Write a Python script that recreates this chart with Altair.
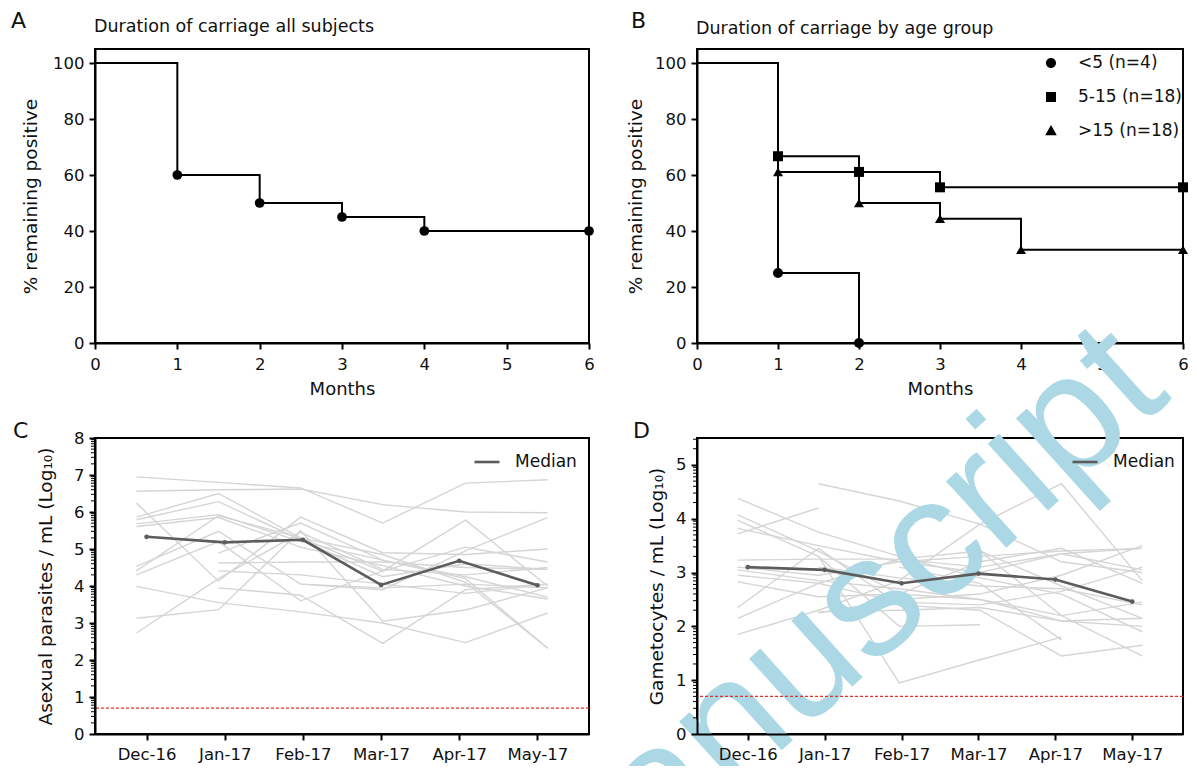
import json
import math
import altair as alt
import pandas as pd

FONT = "DejaVu Sans"
INK = "#111111"

# ---------------- data ----------------
# Panel A: all subjects
a_month = [0, 1, 2, 3, 4, 6]
a_pct = [100, 60, 50, 45, 40, 40]
a_marker = [0, 1, 1, 1, 1, 1]

# Panel B: by age group
b_groups = ["<5 (n=4)", "5-15 (n=18)", ">15 (n=18)"]
b_lt5_month = [0, 1, 2]
b_lt5_pct = [100, 25, 0]
b_lt5_marker = [0, 1, 1]
b_mid_month = [0, 1, 2, 3, 6]
b_mid_pct = [100, 66.7, 61.1, 55.6, 55.6]
b_mid_marker = [0, 1, 1, 1, 1]
b_old_month = [0, 1, 2, 3, 4, 6]
b_old_pct = [100, 61.1, 50.0, 44.4, 33.3, 33.3]
b_old_marker = [0, 1, 1, 1, 1, 1]

# Panels C/D
months = ["Dec-16", "Jan-17", "Feb-17", "Mar-17", "Apr-17", "May-17"]
median_x = [0, 1, 2, 3, 4, 5]
subject_x = [-0.13, 0.92, 1.97, 3.02, 4.08, 5.13]
lod = 0.7

c_median = [5.33, 5.18, 5.25, 4.03, 4.68, 4.02]
c_subjects = [
    [6.95, 6.80, 6.65, 5.70, 6.78, 6.87],
    [6.56, 6.60, 6.62, 6.20, 6.00, 5.98],
    [6.24, 4.13, 5.86, 4.90, 4.85, 5.00],
    [5.86, 6.50, 5.30, 4.40, 5.78, 4.00],
    [5.79, 6.28, 5.25, 4.25, 4.60, 4.45],
    [5.68, 5.93, 5.20, 4.70, 4.20, 2.32],
    [5.61, 5.85, 5.05, 4.55, 4.00, 3.65],
    [4.53, 5.48, 4.05, 3.90, 4.95, 5.85],
    [4.41, 5.90, 5.30, 4.85, 4.10, 2.32],
    [4.30, 5.20, 3.60, 4.40, 5.05, 4.65],
    [3.99, 3.55, 3.30, 3.00, 2.47, 3.27],
    [3.13, 3.36, 5.50, 3.05, 3.35, 3.95],
    [2.73, 4.20, 5.45, 4.45, 4.30, 4.50],
    [None, 4.89, 5.70, 4.70, 4.25, 3.70],
    [None, 4.41, 4.30, 4.05, 3.80, 4.05],
    [None, 4.62, 4.65, 4.65, 4.50, 4.45],
    [None, None, 4.05, 3.95, 4.05, 3.95],
    [None, 3.95, 3.75, 2.45, 3.90, 4.05],
]

d_median = [3.10, 3.05, 2.80, 2.98, 2.87, 2.46]
d_subjects = [
    [4.38, 3.75, 3.30, 2.90, 2.60, 1.90],
    [4.07, 3.40, 2.60, 2.50, 2.20, 1.45],
    [3.97, 3.30, 2.00, 2.03, None, None],
    [3.82, 3.50, 3.20, 3.00, 3.35, 3.45],
    [3.72, 4.20, None, None, None, None],
    [3.23, 3.25, 3.25, 3.10, 3.35, 3.05],
    [3.10, 2.95, 3.20, 3.30, 3.40, 3.45],
    [3.05, 2.85, 2.70, 2.50, 2.10, 2.15],
    [2.95, 2.80, 2.45, 2.40, 2.65, 3.10],
    [2.83, 2.55, 2.60, 3.20, 3.45, 2.80],
    [2.35, 3.45, 2.40, 2.30, 1.45, 1.65],
    [2.15, 2.80, 3.25, 3.40, 2.20, 2.45],
    [1.85, 2.30, 2.85, 3.90, 4.65, 2.85],
    [None, 4.65, 4.33, 3.90, 3.20, 3.00],
    [None, 3.30, 0.95, 1.38, 1.80, None],
    [None, 2.27, 2.30, 2.35, 2.10, 2.00],
    [None, 3.10, 2.90, 2.75, 2.70, 2.40],
    [None, 2.25, 2.50, 2.60, 2.95, 3.50],
    [None, None, 3.10, 2.80, 1.75, None],
    [None, None, None, 3.40, 2.75, 2.15],
]

LEFT_W = 494
RIGHT_W = 486

# ---------------- helpers ----------------
def ax(**kw):
    base = dict(
        labelFont=FONT, labelFontSize=16.5, labelColor=INK, labelPadding=5,
        labelFlush=False, labelOverlap=False,
        titleFont=FONT, titleFontSize=18.5, titleColor=INK, titleFontWeight="normal",
        domainColor="black", domainWidth=2, tickColor="black", tickWidth=2,
        tickSize=6, grid=False,
    )
    base.update(kw)
    return alt.Axis(**base)


def text_layer(txt, x, y, size, align="left"):
    return alt.Chart(pd.DataFrame({"t": [txt]})).mark_text(
        align=align, baseline="alphabetic", font=FONT, fontSize=size, color=INK
    ).encode(text="t:N", x=alt.value(x), y=alt.value(y))


# ---------------- panel A ----------------
dfA = pd.DataFrame({"month": a_month, "pct": a_pct, "marker": a_marker})
xA = alt.X("month:Q", scale=alt.Scale(domain=[0, 6], nice=False, zero=False),
           axis=ax(values=list(range(7)), title="Months", titleFontSize=18, titlePadding=8, labelPadding=7))
yA = alt.Y("pct:Q", scale=alt.Scale(domain=[0, 105], nice=False),
           axis=ax(values=[0, 20, 40, 60, 80, 100], title="% remaining positive", titlePadding=12))

lineA = alt.Chart(dfA).mark_line(interpolate="step-after", color="black", strokeWidth=2).encode(x=xA, y=yA)
ptsA = alt.Chart(dfA).transform_filter("datum.marker == 1").mark_circle(
    size=95, color="black", opacity=1).encode(x=xA, y=yA)
panelA = alt.layer(
    lineA, ptsA,
    text_layer("A", -84, -21, 22),
    text_layer("Duration of carriage all subjects", -1, -17, 17.5),
).properties(width=LEFT_W, height=294)

# ---------------- panel B ----------------
rows = []
for g, ms, ps, mk in [
    (b_groups[0], b_lt5_month, b_lt5_pct, b_lt5_marker),
    (b_groups[1], b_mid_month, b_mid_pct, b_mid_marker),
    (b_groups[2], b_old_month, b_old_pct, b_old_marker),
]:
    for m, p, k in zip(ms, ps, mk):
        rows.append({"group": g, "month": m, "pct": p, "marker": k})
dfB = pd.DataFrame(rows)

xB = alt.X("month:Q", scale=alt.Scale(domain=[0, 6], nice=False, zero=False),
           axis=ax(values=list(range(7)), title="Months", titleFontSize=18, titlePadding=8, labelPadding=7))
yB = alt.Y("pct:Q", scale=alt.Scale(domain=[0, 105], nice=False),
           axis=ax(values=[0, 20, 40, 60, 80, 100], title="% remaining positive", titlePadding=9))

lineB = alt.Chart(dfB).mark_line(interpolate="step-after", color="black", strokeWidth=2).encode(
    x=xB, y=yB, detail="group:N")
ptsB = alt.Chart(dfB).transform_filter("datum.marker == 1").mark_point(
    filled=True, size=100, color="black", opacity=1).encode(
    x=xB, y=yB,
    shape=alt.Shape("group:N", scale=alt.Scale(domain=b_groups, range=["circle", "square", "triangle-up"]),
                    legend=None))
legend_paths = [
    "M-1.35,0H1.35M0.5,0A0.5,0.5,0,1,1,-0.5,0A0.5,0.5,0,1,1,0.5,0Z",
    "M-1.35,0H1.35M-0.5,-0.5H0.5V0.5H-0.5Z",
    "M-1.35,0H1.35M0,-0.6L0.58,0.42H-0.58Z",
]
legB = alt.Chart(dfB).mark_point(filled=True, color="black", stroke="black", strokeWidth=2, opacity=0).encode(
    x=xB, y=yB,
    shape=alt.Shape("group:N", scale=alt.Scale(domain=b_groups, range=legend_paths),
                    legend=alt.Legend(title=None, orient="none", legendX=343, legendY=3, padding=0,
                                      symbolSize=400, symbolFillColor="black", symbolStrokeColor="black",
                                      symbolStrokeWidth=2, symbolOpacity=1,
                                      labelFont=FONT, labelFontSize=17, labelColor=INK,
                                      labelOffset=16, rowPadding=14)))
panelB = alt.layer(
    lineB, ptsB, legB,
    text_layer("B", -66, -21, 22),
    text_layer("Duration of carriage by age group", -1, -15, 17.5),
).resolve_scale(shape="independent").properties(width=RIGHT_W, height=294)

# ---------------- panels C / D ----------------
label_expr = json.dumps(months) + "[round(datum.value)]"


def minor_values(top):
    vals = []
    for k in range(0, int(math.ceil(top))):
        for m in range(2, 10):
            v = k + math.log10(m)
            if v <= top:
                vals.append(round(v, 4))
    return vals


def subjects_df(series):
    out = []
    for i, s in enumerate(series):
        for xv, v in zip(subject_x, s):
            if v is not None:
                out.append({"subject": f"s{i}", "x": xv, "v": v})
    return pd.DataFrame(out)


def time_panel(letter, letter_x, series, median, ytop, ytitle, tpad, legx):
    xs = alt.X("x:Q", scale=alt.Scale(domain=[-0.66, 5.66], nice=False, zero=False),
               axis=ax(values=median_x, labelExpr=label_expr, title=None, labelPadding=6, zindex=1))
    ys = alt.Y("v:Q", scale=alt.Scale(domain=[0, ytop], nice=False),
               axis=ax(values=list(range(0, int(ytop) + 1)), format="d",
                       title=ytitle, titlePadding=tpad, zindex=1))
    gray = alt.Chart(subjects_df(series)).mark_line(color="#d5d5d5", strokeWidth=1.4).encode(
        x=xs, y=ys, detail="subject:N")
    dfm = pd.DataFrame({"x": median_x, "v": median, "series": ["Median"] * len(median)})
    med = alt.Chart(dfm).mark_line(strokeWidth=2.6).encode(
        x=xs, y=ys,
        color=alt.Color("series:N", scale=alt.Scale(domain=["Median"], range=["#5c5c5c"]),
                        legend=alt.Legend(title=None, orient="none", legendX=legx, legendY=10, padding=0,
                                          symbolType="stroke", symbolSize=625, symbolStrokeWidth=2.6,
                                          labelFont=FONT, labelFontSize=17, labelColor=INK,
                                          labelOffset=14)))
    medpts = alt.Chart(dfm).mark_circle(size=22, color="#5c5c5c", opacity=1).encode(x=xs, y=ys)
    rule = alt.Chart(pd.DataFrame({"v": [lod]})).mark_rule(
        color="#e0322c", strokeDash=[3, 2], strokeWidth=1.2).encode(y=ys)
    minor = alt.Chart(pd.DataFrame({"v": minor_values(ytop)})).mark_rule(
        color="black", strokeWidth=1).encode(y=ys, x=alt.value(-4), x2=alt.value(0))
    return gray, med, medpts, rule, minor, text_layer(letter, letter_x, 0, 22)


gC, mC, pC, rC, nC, tC = time_panel("C", -82, c_subjects, c_median, 8,
                                    "Asexual parasites / mL (Log₁₀)", 18, 378)
panelC = alt.layer(gC, rC, mC, pC, nC, tC).properties(width=LEFT_W, height=296)

gD, mD, pD, rD, nD, tD = time_panel("D", -64, d_subjects, d_median, 5.5,
                                    "Gametocytes / mL (Log₁₀)", 9, 374)
watermark = alt.Chart(pd.DataFrame({"t": ["Manuscript"]})).mark_text(
    font="Liberation Sans", fontSize=170, color="#acd8e6", angle=318, align="center", baseline="middle"
).encode(text="t:N", x=alt.value(133), y=alt.value(200))
panelD = alt.layer(gD, watermark, rD, mD, pD, nD, tD).properties(width=RIGHT_W, height=296)

chart = alt.concat(
    panelA, panelB, panelC, panelD, columns=2, spacing={"row": 95, "column": 108}, bounds="flush"
).resolve_scale(color="independent", shape="independent").resolve_legend(
    color="independent", shape="independent"
).properties(
    autosize=alt.AutoSizeParams(type="none"),
    padding={"left": 87, "top": 41, "right": 1181 - 87, "bottom": 758 - 41},
).configure_view(stroke="black", strokeWidth=2)

chart.save("out.html", embed_options={"renderer": "svg", "actions": False})
